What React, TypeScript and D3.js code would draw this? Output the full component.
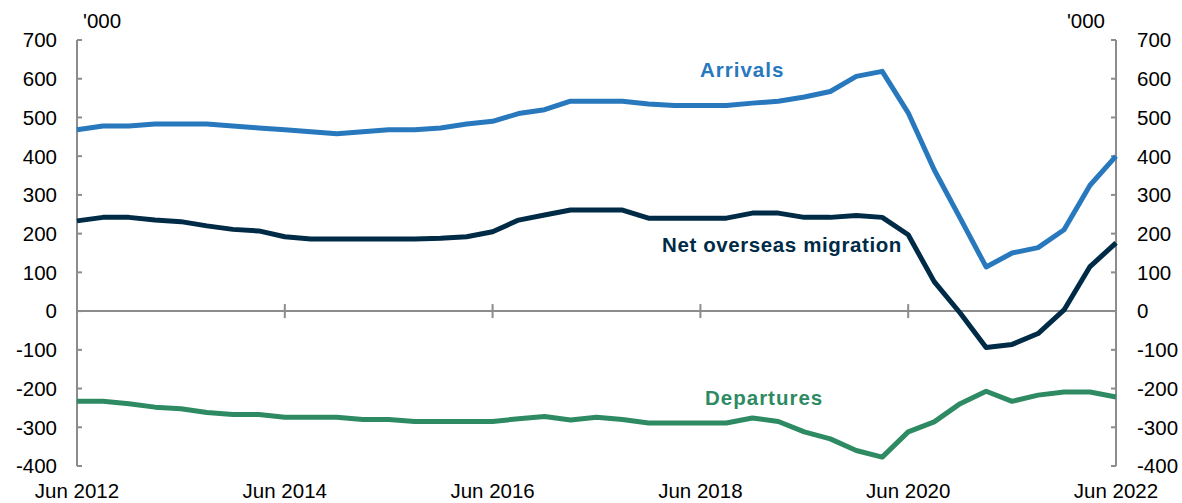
import React from "react";
import * as d3 from "d3";

const nPoints = 41; // Jun 2012 .. Jun 2022 quarterly

const arrivals = [468, 478, 478, 483, 483, 483, 478, 473, 468, 463, 458, 463, 468, 468, 473, 483, 490, 510, 520, 542, 542, 542, 535, 531, 531, 531, 537, 542, 553, 567, 606, 619, 512, 365, 240, 114, 150, 164, 210, 325, 400];
const netOverseas = [233, 242, 242, 235, 231, 220, 211, 207, 192, 186, 186, 186, 186, 186, 188, 192, 205, 235, 248, 261, 261, 261, 240, 240, 240, 240, 253, 253, 242, 242, 247, 242, 197, 76, -5, -94, -86, -58, 3, 115, 176];
const departures = [-233, -233, -239, -248, -252, -262, -267, -267, -274, -274, -274, -280, -280, -285, -285, -285, -285, -278, -272, -281, -274, -280, -289, -289, -289, -289, -276, -285, -312, -330, -360, -377, -312, -286, -239, -207, -233, -217, -209, -209, -222];

const yTicks = [700, 600, 500, 400, 300, 200, 100, 0, -100, -200, -300, -400];
const xTickLabels = ["Jun 2012", "Jun 2014", "Jun 2016", "Jun 2018", "Jun 2020", "Jun 2022"];
const xTickIndex = [0, 8, 16, 24, 32, 40];

const seriesNames = ["Arrivals", "Net overseas migration", "Departures"];
const seriesColors = ["#2878BE", "#002B47", "#2E8A62"];

export default function App() {
  const W = 1182, H = 503;
  const left = 77, right = 1116, top = 40, bottom = 466;
  const x = d3.scaleLinear().domain([0, nPoints - 1]).range([left, right]);
  const y = d3.scaleLinear().domain([-400, 700]).range([bottom, top]);
  const line = d3.line<number>().x((_, i) => x(i)).y((d) => y(d));
  const font = "'Liberation Sans', Arial, sans-serif";
  const axisColor = "#8C8C8C";
  const series = [arrivals, netOverseas, departures];
  const labelPos = [
    { x: 700, y: 77, ls: 1 },
    { x: 662, y: 252, ls: 0.6 },
    { x: 705, y: 405, ls: 1 },
  ];
  return (
    <svg width={W} height={H} style={{ position: "absolute", left: 0, top: 0, background: "#fff" }} fontFamily={font}>
      <line x1={left} x2={right} y1={y(0)} y2={y(0)} stroke={axisColor} strokeWidth={2} />
      {xTickIndex.map((t, i) => (
        <g key={"xt" + i}>
          {i > 0 && i < xTickIndex.length - 1 && (
            <line x1={x(t)} x2={x(t)} y1={y(0) - 7} y2={y(0) + 7} stroke={axisColor} strokeWidth={2} />
          )}
          <text x={x(t)} y={498} textAnchor="middle" fontSize={20.5} fill="#000">
            {xTickLabels[i]}
          </text>
        </g>
      ))}
      <line x1={left} x2={left} y1={top} y2={bottom} stroke={axisColor} strokeWidth={2} />
      <line x1={right} x2={right} y1={top} y2={bottom} stroke={axisColor} strokeWidth={2} />
      {yTicks.map((t) => (
        <g key={"yt" + t}>
          <line x1={left} x2={left + 5} y1={y(t)} y2={y(t)} stroke={axisColor} strokeWidth={2} />
          <line x1={right - 5} x2={right} y1={y(t)} y2={y(t)} stroke={axisColor} strokeWidth={2} />
          <text x={57} y={y(t)} dy="0.36em" textAnchor="end" fontSize={20.5} fill="#000">{t}</text>
          <text x={1137} y={y(t)} dy="0.36em" textAnchor="start" fontSize={20.5} fill="#000">{t}</text>
        </g>
      ))}
      <text x={83} y={28} fontSize={20.5} fill="#000">'000</text>
      <text x={1105} y={28} fontSize={20.5} textAnchor="end" fill="#000">'000</text>
      {series.map((s, i) => (
        <path key={"s" + i} d={line(s) || ""} fill="none" stroke={seriesColors[i]} strokeWidth={5} strokeLinejoin="round" />
      ))}
      {seriesNames.map((n, i) => (
        <text key={"l" + i} x={labelPos[i].x} y={labelPos[i].y} fontSize={20.5} fontWeight="bold" letterSpacing={labelPos[i].ls} fill={seriesColors[i]}>
          {n}
        </text>
      ))}
    </svg>
  );
}
